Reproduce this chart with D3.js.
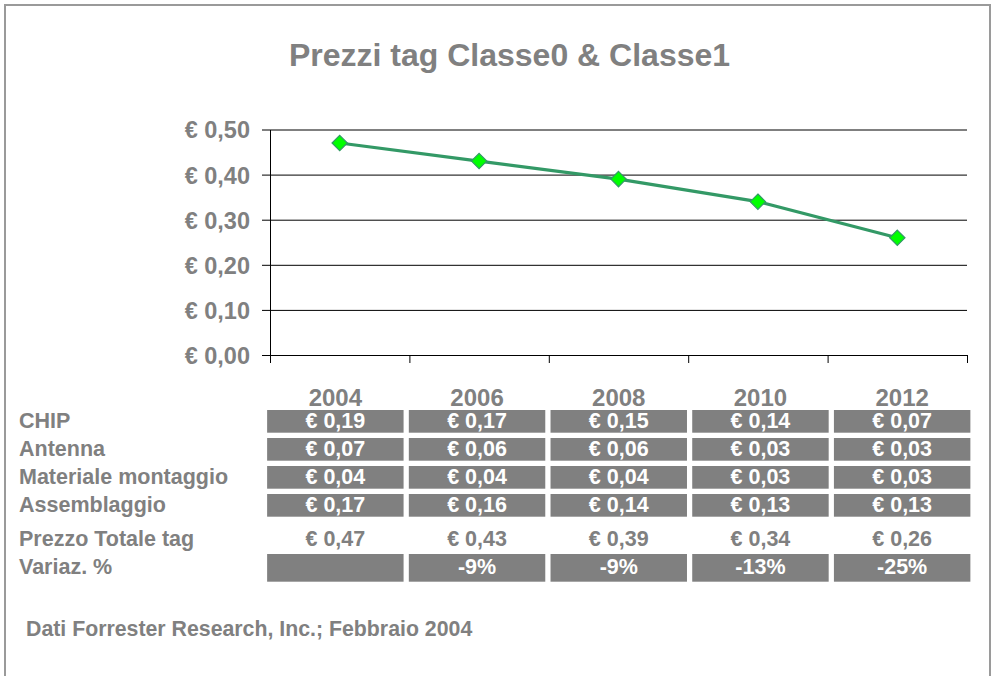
<!DOCTYPE html>
<html>
<head>
<meta charset="utf-8">
<script src="https://cdn.jsdelivr.net/npm/d3@7/dist/d3.min.js"></script>
<style>
  html, body { margin: 0; padding: 0; background: #fff; }
  svg { display: block; font-family: "Liberation Sans", Arial, Helvetica, sans-serif; font-weight: bold; }
</style>
</head>
<body>
<svg id="chart" width="992" height="676"></svg>
<script>
// Tag price breakdown by year (euro)
const years = ["2004", "2006", "2008", "2010", "2012"];
const chip = [0.19, 0.17, 0.15, 0.14, 0.07];
const antenna = [0.07, 0.06, 0.06, 0.03, 0.03];
const materialeMontaggio = [0.04, 0.04, 0.04, 0.03, 0.03];
const assemblaggio = [0.17, 0.16, 0.14, 0.13, 0.13];
const prezzoTotale = [0.47, 0.43, 0.39, 0.34, 0.26];
const variazione = [null, -9, -9, -13, -25];
const yTicks = [0, 0.1, 0.2, 0.3, 0.4, 0.5];

const title = "Prezzi tag Classe0 & Classe1";
const source = "Dati Forrester Research, Inc.; Febbraio 2004";

const grey = "#808080";
const euro = d3.formatLocale({ decimal: ",", thousands: ".", grouping: [3], currency: ["€ ", ""] }).format("$.2f");

const svg = d3.select("#chart");

// outer frame
svg.append("rect")
  .attr("x", 5).attr("y", 5).attr("width", 985).attr("height", 700)
  .attr("fill", "none").attr("stroke", "#9a9a9a").attr("stroke-width", 2);

svg.append("text")
  .attr("x", 509.5).attr("y", 66)
  .attr("text-anchor", "middle")
  .attr("font-size", 32).attr("fill", grey)
  .text(title);

// plot area
const plot = { left: 270, right: 967, top: 129.5, bottom: 355 };
const x = d3.scaleBand().domain(years).range([plot.left, plot.right]).padding(0);
const xEdge = d3.scaleLinear().domain([0, years.length]).range([plot.left, plot.right]);
const y = d3.scaleLinear().domain([0, 0.5]).range([plot.bottom, plot.top]);

// horizontal gridlines
const grid = svg.append("g").attr("transform", `translate(${plot.left},0)`)
  .call(d3.axisLeft(y).tickValues(yTicks).tickSize(-(plot.right - plot.left)).tickFormat(""));
grid.select(".domain").remove();
grid.selectAll(".tick line").attr("stroke", "#000").attr("stroke-width", 1);

// value axis
const yAxis = svg.append("g").attr("transform", `translate(${plot.left},0)`)
  .call(d3.axisLeft(y).tickValues(yTicks).tickSize(8).tickSizeOuter(0).tickPadding(12).tickFormat(euro));
yAxis.select(".domain").attr("stroke", "#000");
yAxis.selectAll(".tick line").attr("stroke", "#000");
yAxis.selectAll(".tick text")
  .attr("font-size", 23.5).attr("font-family", "'Liberation Sans', Arial, sans-serif")
  .attr("font-weight", "bold").attr("fill", grey).attr("dy", "0.36em");

// category axis with boundary ticks
const xAxis = svg.append("g").attr("transform", `translate(0,${plot.bottom})`)
  .call(d3.axisBottom(xEdge).tickValues(d3.range(years.length + 1)).tickSize(8).tickSizeOuter(0).tickFormat(""));
xAxis.select(".domain").attr("stroke", "#000");
xAxis.selectAll(".tick line").attr("stroke", "#000");

// total price line
const pts = years.map((yr, i) => ({ yr, v: prezzoTotale[i] }));
const line = d3.line().x(d => x(d.yr) + x.bandwidth() / 2).y(d => y(d.v));
svg.append("path").datum(pts)
  .attr("d", line).attr("fill", "none")
  .attr("stroke", "#339966").attr("stroke-width", 3.2);

svg.append("g").selectAll("path").data(pts).join("path")
  .attr("d", d3.symbol(d3.symbolDiamond2, 150))
  .attr("transform", d => `translate(${x(d.yr) + x.bandwidth() / 2},${y(d.v)})`)
  .attr("fill", "#00ff00").attr("stroke", "#339966").attr("stroke-width", 1.2);

// data table
const col = d3.scaleBand().domain(years).range([264.5, 973]).paddingInner(0.037).paddingOuter(0.0185);
const cx = d => col(d) + col.bandwidth() / 2;

svg.append("g").selectAll("text").data(years).join("text")
  .attr("x", cx).attr("y", 406)
  .attr("text-anchor", "middle").attr("font-size", 24).attr("fill", grey)
  .text(d => d);

const rows = [
  { label: "CHIP", values: chip, top: 410, h: 22.7, boxed: true, fmt: euro },
  { label: "Antenna", values: antenna, top: 438, h: 22.7, boxed: true, fmt: euro },
  { label: "Materiale montaggio", values: materialeMontaggio, top: 466, h: 22.7, boxed: true, fmt: euro },
  { label: "Assemblaggio", values: assemblaggio, top: 494, h: 22.7, boxed: true, fmt: euro },
  { label: "Prezzo Totale tag", values: prezzoTotale, top: 528, h: 22, boxed: false, fmt: euro },
  { label: "Variaz. %", values: variazione, top: 554, h: 27.7, boxed: true, fmt: v => v + "%" }
];

rows.forEach(r => {
  const g = svg.append("g");
  const base = r.top + r.h / 2 + 6.5;
  g.append("text")
    .attr("x", 19).attr("y", base)
    .attr("font-size", 21.5).attr("fill", grey)
    .text(r.label);
  if (r.boxed) {
    g.selectAll("rect").data(years).join("rect")
      .attr("x", d => col(d)).attr("y", r.top)
      .attr("width", col.bandwidth()).attr("height", r.h)
      .attr("fill", grey);
  }
  g.selectAll("text.v").data(years.map((yr, i) => ({ yr, v: r.values[i] })).filter(d => d.v !== null))
    .join("text").attr("class", "v")
    .attr("x", d => cx(d.yr)).attr("y", base)
    .attr("text-anchor", "middle").attr("font-size", 21.5)
    .attr("fill", r.boxed ? "#fff" : grey)
    .text(d => r.fmt(d.v));
});

svg.append("text")
  .attr("x", 26).attr("y", 636)
  .attr("font-size", 21.3).attr("fill", grey)
  .text(source);
</script>
</body>
</html>
